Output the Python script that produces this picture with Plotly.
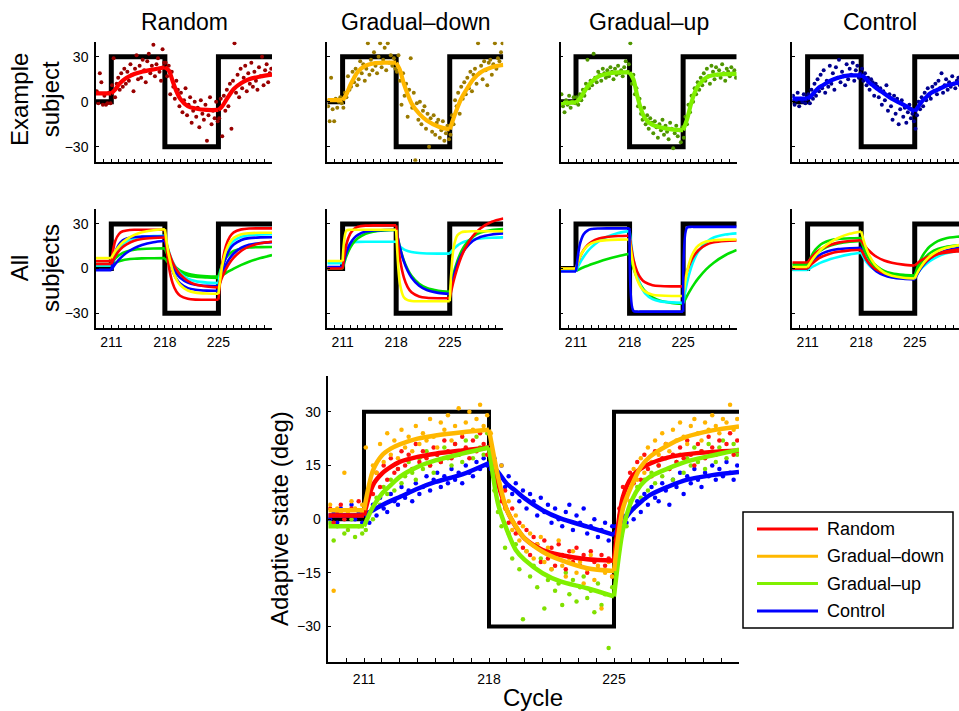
import plotly.graph_objects as go

W, H = 959, 711
FONT = "Liberation Sans, Arial, Helvetica, sans-serif"

# ---------------------------------------------------------------- data
# perturbation schedule (deg) per cycle
step_cycles = [209, 211, 218, 225, 232]
step_levels = [0, 30, -30, 30, 30]

# cycle ticks and their labels
cycle_ticks = list(range(209, 233))
labelled_cycles = [211, 218, 225]

# cycles at which the fitted state-space curves are sampled
fit_cycles = [209, 211, 211.5, 212, 212.5, 213, 214, 215, 216.5, 218,
              218.5, 219, 219.5, 220, 221, 222, 223.5, 225,
              225.5, 226, 226.5, 227, 228, 229, 230.5, 232]

# trial positions (5 trials per cycle)
trial_cycles = [209 + (k + 0.5) / 5 for k in range(115)]

group_names = ["Random", "Gradual\u2013down", "Gradual\u2013up", "Control"]

# ---- example subjects: single-trial adaptive state
ex_random = [7, -1, 19, 13, -2, 4, -2, -1, 6, -1,
             11, 29, 3, 12, 16, 8, 19, 10, 22, 12, 20, 14, 25, 18, 7, 22, 31, 15, 24, 16,
             28, 21, 13, 27, 32, 19, 24, 38, 17, 25, 29, 20, 14, 35, 26,
             26, 17, 24, 5, 20, 10, 2, 14, 8, -3, 6, -7, 1, 9, -9, -2, 3, -14, -6, 0,
             -10, -4, -17, 1, -8, -12, -2, -26, -9, 3, -15, -6, -11, 0, -13,
             -11, 2, -23, 4, -6, 8, -3, 12, -18, 14, 39, 6, 18, 3, 22, 9, 16, 24, 7, 19,
             12, 26, 10, 20, 14, 8, 23, 17, 30, 11, 21, 25, 13, 19, 22]
ex_gdown = [-3, -13, 16, -5, -13, 2, -4, 0, 3, -1,
            -4, 6, 3, 17, 8, 10, 20, 13, 22, 11, 15, 27, 19, 25, 14, 22, 39, 18, 28, 21,
            33, 24, 19, 30, 39, 23, 28, 36, 21, 39, 26, 31, 24, 29, 22,
            20, 31, 14, -2, 19, 4, 12, -10, 8, 29, -4, 6, -39, -1, -12, 0, -15, -6, -3, -18,
            -8, -30, -11, -20, -9, -22, -14, -12, -24, -19, -13, -26, -21, -16, -25,
            -22, -9, -15, 1, -3, 6, -8, 10, 2, 13, 5, 16, 9, 20, 7, 18, 22, 12, 39, 19,
            24, 15, 27, 21, 11, 26, 28, 18, 25, 39, 22, 29, 27, 33, 39]
ex_gup = [5, -3, -7, 1, -2, 4, -4, 0, 3, -1,
          3, -2, 5, 1, 8, 4, 12, 28, 9, 14, 11, 32, 16, 13, 20, 18, 14, 22, 19, 16,
          21, 17, 23, 20, 15, 22, 18, 24, 19, 21, 17, 23, 27, 20, 25,
          39, 12, 18, 5, 9, -3, 2, -8, -12, -4, -15, -9, -18, -11, -14, -21, -13, -17, -24, -15,
          -19, -12, -22, -16, -20, -25, -14, -18, -31, -21, -16, -23, -19, -27, -17,
          -24, -10, -15, -2, -7, 4, 0, 9, 5, 13, 8, 16, 11, 19, 14, 22, 17, 12, 24, 20,
          15, 23, 18, 21, 16, 25, 19, 14, 22, 20, 17, 23, 19, 21, 16]
ex_control = [4, -2, 1, 6, -3, 2, 0, 5, -1, 3,
              5, -1, 8, 2, 12, 4, 15, 7, 18, 9, 21, 6, 14, 10, 24, 12, 19, 8, 23, 16,
              28, 13, 20, 17, 11, 25, 15, 22, 18, 26, 14, 21, 24, 16, 19,
              22, 14, 19, 11, 16, 8, 15, 13, 4, 12, 10, 3, 9, -2, 7, 1, 11, -6, 5, -3,
              -12, 4, -8, 2, -15, -5, 1, -10, -4, -14, -7, -2, -11, -8, -13,
              -18, -9, 0, -5, 3, -3, 6, 1, 9, 4, 2, 10, 7, 12, 5, 14, 9, 19, 6, 11,
              15, 8, 13, 10, 17, 12, 9, 14, 16, 11, 15, 13, 18, 12, 16]

# ---- example subjects: model fits
fit_ex_random = [5.5, 5.5, 8, 11.5, 14, 16, 18.5, 20, 21.5, 23,
                 21, 14, 7, 2, -3, -4.5, -5.5, -5.5,
                 -3, 1, 5, 8.5, 12.5, 15, 16.8, 18]
fit_ex_gdown = [1, 1, 5, 11, 16, 20, 24, 25.5, 26, 26,
                21, 12, 5, -1, -8, -12.5, -16.5, -18.5,
                -11, -4, 2, 6.5, 14.5, 19.5, 23, 24.5]
fit_ex_gup = [-1, -0.5, 2, 6, 10, 13, 17, 18.5, 19.5, 19.5,
              15, 4, -5, -11, -15.5, -17, -18.5, -19,
              -12, -2, 6, 11, 16, 17.8, 18.4, 18.5]
fit_ex_control = [2, 2, 4, 7, 9.5, 11, 14, 16, 17.5, 17.5,
                  16, 13, 11, 9, 5.5, 2, -2, -6.5,
                  -3, 0.5, 3, 5.5, 8, 10.5, 12.5, 14]

# ---- all subjects: model fits, one list per subject
all_random = [
    [2, 2, 3.7, 4.8, 5.6, 6.1, 6.6, 6.8, 6.9, 7, 3.2, 0.4, -1.5, -2.9, -4.7, -5.6, -6.1, -6.4,
     -4.6, -3, -1.5, -0.1, 2.4, 4.5, 7, 9],
    [3, 3, 6.6, 8.9, 10.5, 11.5, 12.6, 13.1, 13.4, 13.5, 7.4, 3.3, 0.5, -1.4, -3.6, -4.6, -5.2, -5.4,
     2.4, 7.2, 10.1, 11.8, 13.5, 14.1, 14.4, 14.5],
    [2, 2, 8.8, 13.3, 16.3, 18.2, 20.4, 21.3, 21.8, 22, 11.8, 4.8, 0.1, -3.1, -6.8, -8.5, -9.5, -9.8,
     3.1, 10.9, 15.7, 18.6, 21.4, 22.4, 22.9, 23],
    [-1, -1, 2.8, 5.9, 8.5, 10.6, 13.7, 15.8, 17.7, 18.7, 8.2, 1.4, -3.2, -6.2, -9.5, -10.9, -11.7, -12,
     -3.5, 2.6, 7, 10.1, 14, 15.9, 17.2, 17.7],
    [-1, -1, 10.5, 16.1, 18.9, 20.2, 21.2, 21.4, 21.5, 21.5, 7.2, -1.6, -6.9, -10.1, -13.2, -14.3, -14.9, -15,
     -0.9, 7.8, 13, 16.1, 19.2, 20.4, 20.9, 21],
    [3, 3, 8.1, 11.8, 14.4, 16.2, 18.6, 19.8, 20.5, 20.8, 11.4, 4.4, -0.5, -4, -8.4, -10.7, -12.1, -12.7,
     -5.7, -0.2, 4, 7.3, 11.9, 14.7, 17, 18],
    [5, 5, 18.3, 23.2, 25, 25.6, 26, 26, 26, 26, 2, -9.7, -15.5, -18.3, -20.3, -20.9, -21, -21,
     3.5, 15.5, 21.4, 24.3, 26.3, 26.9, 27, 27],
    [7, 7, 11.4, 14.9, 17.6, 19.6, 22.5, 24.3, 25.7, 26.4, 9.3, -1, -7.3, -11.1, -14.8, -16.2, -16.8, -17,
     2.1, 12.2, 17.7, 20.6, 23, 23.7, 24, 24],
]
all_gdown = [
    [3.5, 3.5, 13.8, 16.8, 17.7, 17.9, 18, 18, 18, 18, 14.9, 12.9, 11.8, 11.1, 10.4, 10.1, 10, 10,
     13.1, 15.4, 17, 18.1, 19.5, 20.2, 20.7, 20.9],
    [0, 0, 8.3, 14, 17.8, 20.4, 23.4, 24.8, 25.6, 25.9, 14.1, 5.5, -0.5, -4.9, -10.3, -13.1, -14.9, -15.6,
     -3.5, 5.1, 11.3, 15.8, 21.2, 24.1, 25.9, 26.6],
    [1, 1, 10.8, 16.8, 20.4, 22.6, 24.8, 25.5, 25.9, 26, 13.7, 4.8, -1.5, -6, -11.6, -14.5, -16.4, -17.1,
     -5.5, 2.9, 8.9, 13.1, 18.5, 21.2, 22.9, 23.6],
    [0, 0, 16.4, 23.5, 26.6, 28, 28.8, 29, 29, 29, 6.2, -5.9, -12.5, -16, -18.8, -19.7, -20, -20,
     -8.6, 0.4, 7.7, 13.4, 21.7, 26.9, 31.4, 33.6],
    [5, 5, 25.5, 26, 26, 26, 26, 26, 26, 26, -10.5, -19.3, -21.3, -21.8, -22, -22, -22, -22,
     13.7, 22.3, 24.3, 24.8, 25, 25, 25, 25],
]
all_gup = [
    [-1.5, -1.5, -0.3, 0.8, 1.8, 2.8, 4.6, 6.2, 8.2, 9.9, 0.3, -6.6, -11.5, -15.1, -19.4, -21.7, -23.1, -23.7,
     -18.5, -14, -10, -6.5, -0.6, 3.9, 8.9, 12.4],
    [-1.5, -1.5, 3.7, 7.9, 11.4, 14.2, 18.4, 21.2, 23.8, 25.3, 6.3, -5.2, -12.2, -16.5, -20.6, -22.1, -22.8, -23,
     -9.7, -0.1, 6.7, 11.6, 17.7, 20.8, 22.8, 23.6],
    [0, 0, 7.5, 12.4, 15.7, 17.8, 20.2, 21.2, 21.8, 22, 6.2, -2.2, -6.8, -9.2, -11.2, -11.8, -12, -12,
     -2.1, 4.6, 9.2, 12.3, 15.9, 17.6, 18.5, 18.8],
    [0, 0, 7.7, 12.3, 15.2, 16.9, 18.5, 19.1, 19.4, 19.5, 1.8, -7.6, -12.7, -15.4, -17.6, -18.2, -18.5, -18.5,
     -2.3, 7, 12.3, 15.4, 18.1, 19, 19.4, 19.5],
    [-2, -2, 16.1, 23, 25.5, 26.5, 26.9, 27, 27, 27, -28.5, -29, -29, -29, -29, -29, -29, -29,
     27.5, 28, 28, 28, 28, 28, 28, 28],
]
all_control = [
    [-1, -1, 0.7, 2.1, 3.4, 4.5, 6.4, 7.8, 9.5, 10.6, 5.9, 2.5, 0.1, -1.6, -3.8, -4.9, -5.6, -5.9,
     -2.3, 0.7, 3.1, 5.1, 8, 10, 11.8, 12.8],
    [0, 0, 4, 6.8, 8.8, 10.3, 12.1, 13, 13.6, 13.9, 7.8, 3.5, 0.4, -1.9, -4.6, -6, -6.9, -7.3,
     -2.4, 1.5, 4.5, 6.8, 10, 12, 13.6, 14.3],
    [0, 0, 2.9, 5.1, 6.9, 8.2, 10.1, 11.2, 12.2, 12.6, 7.5, 3.8, 1.2, -0.7, -3.1, -4.3, -5, -5.3,
     -1, 2.3, 4.9, 6.9, 9.7, 11.4, 12.8, 13.4],
    [3, 3, 6.5, 9.3, 11.4, 13.1, 15.4, 16.8, 18, 18.5, 11.7, 6.8, 3.3, 0.8, -2.3, -3.8, -4.9, -5.3,
     0.7, 5.1, 8.2, 10.4, 13.1, 14.5, 15.4, 15.8],
    [2, 2, 8.3, 12.5, 15.2, 17, 19, 19.8, 20.3, 20.5, 13.3, 8.1, 4.4, 1.7, -1.6, -3.2, -4.3, -4.8,
     2.8, 8.3, 12.1, 14.9, 18.4, 20.2, 21.3, 21.8],
    [4, 4, 7.4, 10.1, 12.2, 13.8, 16, 17.4, 18.5, 19, 15.1, 12.1, 9.8, 7.9, 5.4, 3.9, 2.6, 2,
     4.2, 5.9, 7.3, 8.3, 9.8, 10.6, 11.4, 11.7],
    [1, 1, 5.1, 8.5, 11.4, 13.9, 17.7, 20.5, 23.3, 24.9, 15.9, 9.4, 4.8, 1.4, -2.7, -4.8, -6.2, -6.7,
     -1.5, 2.6, 5.8, 8.3, 11.7, 13.8, 15.5, 16.3],
]

# ---- group averages: single-trial adaptive state
avg_random = [3, -1, 2, 4, 0, -2, 3, 1, 5, 2,
              4, 8, 7, 13, 9, 15, 11, 17, 13, 14, 19, 15, 18, 14, 21, 16, 19, 17, 15, 20,
              18, 16, 22, 19, 17, 21, 18, 23, 20, 17, 22, 19, 24, 21, 18,
              21, 12, 13, 5, 8, -1, 3, -4, -1, -8, -3, -10, -5, -7, -12, -6, -11, -8, -13, -7,
              -10, -14, -9, -12, -8, -13, -10, -15, -9, -12, -14, -10, -13, -11, -16,
              -6, 3, 9, 6, 13, 10, 16, 11, 18, 14, 12, 19, 15, 17, 21, 14, 18, 16, 20, 17,
              22, 18, 15, 21, 19, 17, 23, 20, 18, 22, 19, 21, 24, 18, 22]
avg_gdown = [4, -20, 3, 2, 13, 2, 5, 3, 1, 4,
             20, 8, 15, 13, 21, 16, 24, 18, 22, 17, 25, 20, 23, 19, 26, 21, 24, 22, 28, 23,
             20, 27, 25, 29, 22, 26, 31, 24, 27, 30, 25, 28, 32, 26, 29,
             24, 14, 12, 15, 3, 5, -3, 1, -6, -2, -9, -4, -11, -7, -5, -12, -8, -14, -10, -6,
             -13, -16, -11, -9, -15, -12, -18, -14, -10, -17, -13, -25, -15, -12, -16,
             -9, 1, 6, 9, 5, 14, 11, 17, 13, 20, 16, 22, 18, 24, 21, 19, 25, 22, 27, 23,
             21, 26, 28, 24, 22, 27, 25, 29, 26, 24, 28, 27, 32, 25, 28]
avg_gup = [-1, -6, -2, 1, -4, -3, 0, -5, -2, -4,
           -3, 2, 0, 6, 4, 9, 7, 11, 8, 14, 10, 12, 16, 13, 11, 17, 14, 19, 15, 13,
           18, 16, 20, 17, 15, 21, 18, 16, 22, 19, 17, 23, 20, 18, 24,
           19, 8, 2, -2, -8, -4, -11, -7, -14, -28, -9, -16, -13, -19, -11, -25, -17, -14, -20, -18,
           -24, -15, -21, -17, -23, -19, -16, -22, -20, -26, -18, -24, -21, -36, -19,
           -15, -6, 0, -2, 5, 3, 9, 6, 11, 8, 13, 10, 15, 12, 17, 14, 11, 16, 18, 13,
           17, 15, 20, 16, 19, 14, 21, 18, 16, 20, 22, 17, 19, 21, 18]
avg_control = [0, 2, -1, 3, 1, -2, 4, 0, 2, -1,
               2, -1, 4, 1, 6, 3, 2, 7, 5, 4, 9, 6, 8, 5, 10, 7, 9, 12, 8, 11,
               13, 9, 12, 10, 14, 11, 13, 10, 15, 13, 12, 16, 14, 17, 15,
               14, 17, 11, 15, 9, 12, 7, 10, 5, 8, 3, 7, 5, 1, 6, 2, 4, -1, 3, 0,
               -2, 2, 4, -3, 1, -1, 3, -4, -2, 0, -5, -3, -1, -6, -2,
               -2, -5, 1, -1, 3, 0, 5, 2, 7, 4, 9, 6, 5, 10, 8, 4, 11, 9, 13, 7,
               12, 10, 14, 11, 9, 13, 12, 15, 11, 14, 12, 16, 13, 11, 15]

# ---- group averages: model fits
fit_avg_random = [1, 1, 9.5, 12.7, 14.6, 16, 17.4, 18.3, 19.2, 20,
                  10, 2.5, -2.1, -5.4, -8.6, -10, -11.2, -11.6,
                  6.2, 11.8, 14.1, 15.5, 17.2, 18.1, 18.8, 19.2]
fit_avg_gdown = [2.5, 2.5, 13.6, 17.8, 19.7, 20.9, 22.5, 23.4, 24.3, 25,
                 12, 2.5, -2, -5.4, -9.1, -11.4, -13.7, -14.5,
                 3, 9.5, 14.6, 17.4, 20.6, 22.9, 24.8, 25.9]
fit_avg_gup = [-2, -2, 3.4, 7.1, 9.5, 11.8, 14.6, 16.4, 18.3, 20,
               4.4, -3, -8.6, -11.4, -15.1, -17.4, -19.3, -21.6,
               -3, 5.3, 9.5, 11.8, 14.1, 16, 17.8, 19.4]
fit_avg_control = [1, 1, 2.5, 3.9, 5.1, 6.2, 8.5, 10.4, 12.5, 15.7,
                   13.2, 9.9, 7.9, 5.8, 2.5, 0.2, -2.1, -4.4,
                   -0.7, 2.5, 4.8, 6.7, 9, 10.9, 12.3, 13.2]

# ---------------------------------------------------------------- styling
fit_colors = ["#ff0000", "#ffb800", "#80f000", "#0000ff"]
dot_colors = ["#990000", "#9a7a00", "#4f9600", "#00008f"]
avg_dot_colors = ["#ff1010", "#ffb400", "#80e000", "#0000ff"]
subject_colors = {
    "Random": ["#00e000", "#00e000", "#00ffff", "#0000ff", "#0000ff", "#ff0000", "#ff0000", "#ffff00"],
    "Gradual\u2013down": ["#00ffff", "#00e000", "#0000ff", "#ff0000", "#ffff00"],
    "Gradual\u2013up": ["#00e000", "#00ffff", "#ff0000", "#ffff00", "#0000ff"],
    "Control": ["#00ffff", "#0000ff", "#ff0000", "#00e000", "#00e000", "#ff0000", "#ffff00"],
}

# panel boxes in pixels (left, right) / (top, bottom)
col_px = [(96, 272), (327.3, 503.3), (560.7, 736.7), (792.3, 968.3)]
row_px = [(41.7, 161.7), (209, 328)]
big_x_px = (328.3, 739)
big_y_px = (376, 662.3)
X0, X1 = 209, 232


def pxx(v):
    return v / W


def pxy(v):
    return 1 - v / H


fig = go.Figure()


def ax_name(n):
    return "" if n == 1 else str(n)


BOUNDS = [0, 1, 9, 17, 25]


def pieces(values):
    xs, ys = [], []
    for a, b in zip(BOUNDS[:-1], BOUNDS[1:]):
        xs += fit_cycles[a:b + 1] + [None]
        ys += values[a:b + 1] + [None]
    return xs, ys


def add_step(n, width):
    fig.add_trace(go.Scatter(x=step_cycles, y=step_levels, mode="lines",
                             line=dict(color="black", width=width, shape="hv"),
                             xaxis="x" + ax_name(n), yaxis="y" + ax_name(n),
                             showlegend=False, hoverinfo="skip"))


def add_fit(n, values, color, width):
    xs, ys = pieces(values)
    fig.add_trace(go.Scatter(x=xs, y=ys, mode="lines",
                             line=dict(color=color, width=width, shape="spline", smoothing=0.8),
                             xaxis="x" + ax_name(n), yaxis="y" + ax_name(n),
                             showlegend=False, hoverinfo="skip"))


def add_dots(n, values, color, size):
    fig.add_trace(go.Scatter(x=trial_cycles, y=values, mode="markers",
                             marker=dict(color=color, size=size, line=dict(width=0)),
                             xaxis="x" + ax_name(n), yaxis="y" + ax_name(n),
                             showlegend=False, hoverinfo="skip"))


tick_text = [str(c) if c in labelled_cycles else "" for c in cycle_ticks]
layout_axes = {}


def set_axes(n, xpx, ypx, xr, xlabels, ylabels, yvals, tl_x, tl_y, x_standoff):
    right = min(xpx[1], W)
    xr_end = xr[0] + (xr[1] - xr[0]) * (right - xpx[0]) / (xpx[1] - xpx[0])
    layout_axes["xaxis" + ax_name(n)] = dict(
        domain=[pxx(xpx[0]), pxx(right)], range=[xr[0], xr_end],
        anchor="y" + ax_name(n), showline=True, linecolor="black", linewidth=1.5,
        ticks="inside", ticklen=tl_x, tickwidth=1, tickcolor="black",
        tickvals=cycle_ticks, ticktext=tick_text, showticklabels=xlabels,
        showgrid=False, zeroline=False, ticklabelstandoff=x_standoff,
        tickfont=dict(family=FONT, size=14, color="black"))
    layout_axes["yaxis" + ax_name(n)] = dict(
        domain=[pxy(ypx[1]), pxy(ypx[0])], range=[-40, 40],
        anchor="x" + ax_name(n), showline=True, linecolor="black", linewidth=1.5,
        ticks="inside", ticklen=tl_y, tickwidth=1, tickcolor="black",
        tickvals=yvals, showticklabels=ylabels,
        showgrid=False, zeroline=False, ticklabelstandoff=3,
        tickfont=dict(family=FONT, size=14, color="black"))


ex_dots = [ex_random, ex_gdown, ex_gup, ex_control]
ex_fits = [fit_ex_random, fit_ex_gdown, fit_ex_gup, fit_ex_control]
all_fits = [all_random, all_gdown, all_gup, all_control]

# row 1: example subjects
for i in range(4):
    n = i + 1
    set_axes(n, col_px[i], row_px[0], (X0, X1), False, i == 0, [-30, 0, 30], 3, 3, 2)
    add_step(n, 5)
    add_dots(n, ex_dots[i], dot_colors[i], 4)
    add_fit(n, ex_fits[i], fit_colors[i], 4.2)

# row 2: all subjects
for i in range(4):
    n = i + 5
    set_axes(n, col_px[i], row_px[1], (X0, X1), True, i == 0, [-30, 0, 30], 3, 3, 0)
    add_step(n, 5)
    for vals, col in zip(all_fits[i], subject_colors[group_names[i]]):
        add_fit(n, vals, col, 2.6)

# bottom: group averages
set_axes(9, big_x_px, big_y_px, (X0, X1), True, True, [-30, -15, 0, 15, 30], 5, 3, 3)
add_step(9, 4)
avg_dots = [avg_random, avg_gdown, avg_gup, avg_control]
avg_fits = [fit_avg_random, fit_avg_gdown, fit_avg_gup, fit_avg_control]
for order in [3, 2, 0, 1]:
    add_dots(9, avg_dots[order], avg_dot_colors[order], 4.5)
for order in [3, 0, 2, 1]:
    add_fit(9, avg_fits[order], fit_colors[order], 4.5)

# ---------------------------------------------------------------- text
annotations = []
title_centres = [184, 416, 649, 880]
for name, cx in zip(group_names, title_centres):
    annotations.append(dict(text=name, x=pxx(cx), y=pxy(22), xref="paper", yref="paper",
                            showarrow=False, xanchor="center", yanchor="middle",
                            font=dict(family=FONT, size=23, color="black")))
for text, cy in [("Example<br>subject", 100), ("All<br>subjects", 268)]:
    annotations.append(dict(text=text, x=pxx(35), y=pxy(cy), xref="paper", yref="paper",
                            showarrow=False, xanchor="center", yanchor="middle", textangle=-90,
                            font=dict(family=FONT, size=24, color="black")))
annotations.append(dict(text="Adaptive state (deg)", x=pxx(279), y=pxy(519), xref="paper", yref="paper",
                        showarrow=False, xanchor="center", yanchor="middle", textangle=-90,
                        font=dict(family=FONT, size=24, color="black")))
annotations.append(dict(text="Cycle", x=pxx(533), y=pxy(697), xref="paper", yref="paper",
                        showarrow=False, xanchor="center", yanchor="middle",
                        font=dict(family=FONT, size=24, color="black")))

# legend box
shapes = [dict(type="rect", xref="paper", yref="paper",
               x0=pxx(743), x1=pxx(953), y0=pxy(628), y1=pxy(512),
               line=dict(color="black", width=1.5), fillcolor="white")]
for k, (name, col) in enumerate(zip(group_names, fit_colors)):
    yy = 529 + 27.3 * k
    shapes.append(dict(type="line", xref="paper", yref="paper",
                       x0=pxx(757), x1=pxx(818), y0=pxy(yy), y1=pxy(yy),
                       line=dict(color=col, width=3)))
    annotations.append(dict(text=name, x=pxx(825), y=pxy(yy), xref="paper", yref="paper",
                            showarrow=False, xanchor="left", yanchor="middle",
                            font=dict(family=FONT, size=18, color="black")))

fig.update_layout(width=W, height=H, margin=dict(l=0, r=0, t=0, b=0),
                  paper_bgcolor="white", plot_bgcolor="white", showlegend=False,
                  annotations=annotations, shapes=shapes, **layout_axes)

fig.write_html("out.html")
